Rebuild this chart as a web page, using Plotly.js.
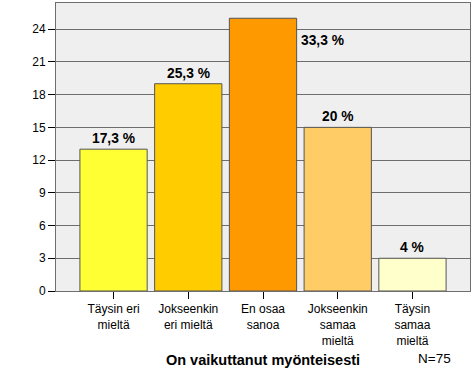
<!DOCTYPE html>
<html>
<head>
<meta charset="utf-8">
<script src="https://cdn.plot.ly/plotly-3.0.1.min.js"></script>
<style>html,body{margin:0;padding:0;background:#fff;}#chart{width:476px;height:381px;}</style>
</head>
<body>
<div id="chart"></div>
<script>
const categories = ["Täysin eri<br>mieltä", "Jokseenkin<br>eri mieltä", "En osaa<br>sanoa", "Jokseenkin<br>samaa<br>mieltä", "Täysin<br>samaa<br>mieltä"];
const counts = [13, 19, 25, 15, 3];
const percentLabels = ["17,3 %", "25,3 %", "33,3 %", "20 %", "4 %"];
const barColors = ["#FFFF33", "#FFCC00", "#FF9900", "#FFCC66", "#FFFFCC"];
const yTicks = [0, 3, 6, 9, 12, 15, 18, 21, 24];
const xTitle = "On vaikuttanut myönteisesti";
const nLabel = "N=75";

const idx = categories.map((c, i) => i);
const maxVal = Math.max(...counts);
const labelFont = {family: 'Arial, Liberation Sans', size: 13.8, color: '#000'};

const annotations = counts.map((v, i) => {
  if (v === maxVal) {
    return {x: i + 0.45, y: v, xref: 'x', yref: 'y', text: '<b>' + percentLabels[i] + '</b>',
      showarrow: false, xanchor: 'left', yanchor: 'top', yshift: -13, xshift: 2, font: labelFont};
  }
  return {x: i, y: v, xref: 'x', yref: 'y', text: '<b>' + percentLabels[i] + '</b>',
    showarrow: false, xanchor: 'center', yanchor: 'bottom', yshift: 1, font: labelFont};
});
annotations.push({x: 1, y: 0, xref: 'paper', yref: 'paper', xanchor: 'right', yanchor: 'top',
  yshift: -58, xshift: -17, showarrow: false, text: nLabel,
  font: {family: 'Arial, Liberation Sans', size: 13.5, color: '#000'}});

const trace = {
  type: 'bar', x: idx, y: counts, width: 0.9,
  marker: {color: barColors, line: {color: '#555555', width: 1}},
  hoverinfo: 'none'
};

const layout = {
  width: 476, height: 381,
  margin: {l: 56, r: 6, t: 3, b: 90},
  paper_bgcolor: '#ffffff', plot_bgcolor: '#EFEFEF',
  showlegend: false,
  font: {family: 'Arial, Liberation Sans', size: 12, color: '#000'},
  xaxis: {
    range: [-0.77, 4.77], tickmode: 'array', tickvals: idx, ticktext: categories,
    ticks: 'outside', ticklen: 7, tickcolor: '#000', showgrid: false, zeroline: false,
    showline: true, linecolor: '#6e6e6e', mirror: true,
    tickfont: {family: 'Arial, Liberation Sans', size: 12, color: '#000'},
    title: {text: '<b>' + xTitle + '</b>', font: {family: 'Arial, Liberation Sans', size: 14.5, color: '#000'}, standoff: 8}
  },
  yaxis: {
    range: [0, 26.4], tickmode: 'array', tickvals: yTicks,
    ticks: 'outside', ticklen: 7, tickcolor: '#000', showgrid: true, gridcolor: '#6e6e6e', gridwidth: 1,
    zeroline: false, showline: true, linecolor: '#6e6e6e', mirror: true,
    tickfont: {family: 'Arial, Liberation Sans', size: 12, color: '#000'}
  },
  annotations: annotations
};

Plotly.newPlot('chart', [trace], layout, {displayModeBar: false, staticPlot: true});
</script>
</body>
</html>
